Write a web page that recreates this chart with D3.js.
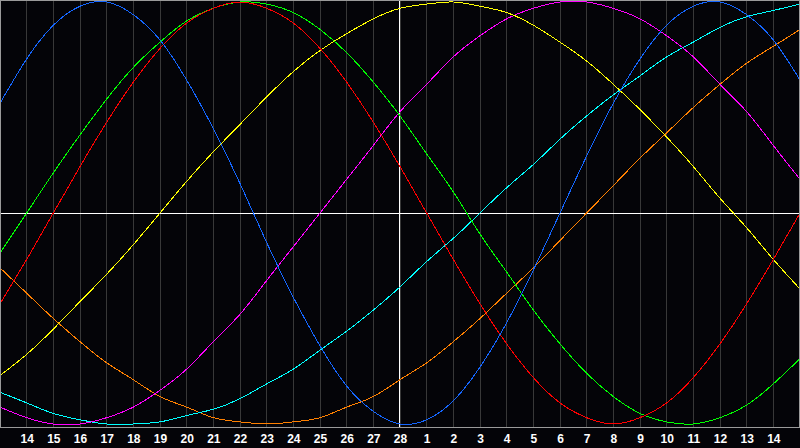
<!DOCTYPE html>
<html>
<head>
<meta charset="utf-8">
<script src="https://cdn.jsdelivr.net/npm/d3@7"></script>
<style>
  html, body { margin: 0; padding: 0; background: #040408; }
  svg { display: block; }
</style>
</head>
<body>
<svg id="chart" width="800" height="448"></svg>
<script>
// Day labels for each sampled day position (index 0 .. 30)
const days = [13, 14, 15, 16, 17, 18, 19, 20, 21, 22, 23, 24, 25, 26, 27, 28,
              1, 2, 3, 4, 5, 6, 7, 8, 9, 10, 11, 12, 13, 14, 15];
// index of the day marked with the white vertical line ("today")
const todayIndex = 15;

// Cycle values (percent, -100..100), one per day position
const physical     = [52, 73, 89, 98, 100, 94, 82, 63, 40, 14, -14, -40, -63, -82, -94, -100, -98, -89, -73, -52, -27, 0, 27, 52, 73, 89, 98, 100, 94, 82, 63];
const emotional    = [-43, -22, 0, 22, 43, 62, 78, 90, 97, 100, 97, 90, 78, 62, 43, 22, 0, -22, -43, -62, -78, -90, -97, -100, -97, -90, -78, -62, -43, -22, 0];
const intellectual = [-19, 0, 19, 37, 54, 69, 81, 91, 97, 100, 99, 95, 87, 76, 62, 46, 28, 10, -10, -28, -46, -62, -76, -87, -95, -99, -100, -97, -91, -81, -69];
const aesthetic    = [-77, -67, -55, -42, -29, -15, 0, 15, 29, 42, 55, 67, 77, 85, 92, 97, 99, 100, 98, 95, 89, 81, 72, 61, 49, 36, 22, 7, -7, -22, -36];
const intuition    = [-92, -97, -100, -100, -97, -92, -84, -74, -61, -48, -32, -16, 0, 16, 32, 48, 61, 74, 84, 92, 97, 100, 100, 97, 92, 84, 74, 61, 48, 32, 16];
const spiritual    = [-85, -90, -95, -98, -100, -100, -99, -96, -93, -88, -81, -74, -65, -56, -46, -35, -23, -12, 0, 12, 23, 35, 46, 56, 65, 74, 81, 88, 93, 96, 99];
const awareness    = [-26, -38, -50, -61, -71, -79, -87, -92, -97, -99, -100, -99, -97, -92, -87, -79, -71, -61, -50, -38, -26, -13, 0, 13, 26, 38, 50, 61, 71, 79, 87];

const seriesNames  = ["awareness", "spiritual", "intuition", "aesthetic", "intellectual", "emotional", "physical"];
const seriesValues = [awareness, spiritual, intuition, aesthetic, intellectual, emotional, physical];
const seriesColors = ["#ff8000", "#00ffff", "#ff00ff", "#ffff00", "#00ff00", "#ff0000", "#1466ff"];

const W = 800, H = 448;
const svg = d3.select("#chart");

const x = d3.scaleLinear().domain([0, days.length - 1]).range([0, 800]);
const y = d3.scaleLinear().domain([-100, 100]).range([424, 2]);

// background
svg.append("rect").attr("x", 0).attr("y", 0).attr("width", W).attr("height", H).attr("fill", "#040408");

// vertical grid lines
const gridIdx = d3.range(1, days.length - 1);
svg.append("g").selectAll("line").data(gridIdx).join("line")
  .attr("x1", d => Math.floor(x(d)) + 0.5)
  .attr("x2", d => Math.floor(x(d)) + 0.5)
  .attr("y1", 1).attr("y2", 427)
  .attr("stroke", "#383838").attr("stroke-width", 1)
  .attr("shape-rendering", "crispEdges");

// zero line and today line
svg.append("line")
  .attr("x1", 1).attr("x2", 799).attr("y1", 213.5).attr("y2", 213.5)
  .attr("stroke", "#ffffff").attr("stroke-width", 1).attr("shape-rendering", "crispEdges");
svg.append("line")
  .attr("x1", Math.floor(x(todayIndex)) - 0.5).attr("x2", Math.floor(x(todayIndex)) - 0.5)
  .attr("y1", 1).attr("y2", 427)
  .attr("stroke", "#ffffff").attr("stroke-width", 1).attr("shape-rendering", "crispEdges");

// curves
const line = d3.line()
  .x((d, i) => x(i))
  .y(d => y(d))
  .curve(d3.curveNatural);

const clip = svg.append("clipPath").attr("id", "plotclip")
  .append("rect").attr("x", 1).attr("y", 1).attr("width", 798).attr("height", 426);

svg.append("g").attr("clip-path", "url(#plotclip)")
  .selectAll("path").data(seriesValues).join("path")
  .attr("d", d => line(d))
  .attr("fill", "none")
  .attr("stroke", (d, i) => seriesColors[i])
  .attr("stroke-width", 1)
  .attr("shape-rendering", "crispEdges");

// plot border
svg.append("rect")
  .attr("x", 0.5).attr("y", 0.5).attr("width", 799).attr("height", 427)
  .attr("fill", "none").attr("stroke", "#9a9a9a").attr("stroke-width", 1)
  .attr("shape-rendering", "crispEdges");

// day labels via axis
const axis = d3.axisBottom(x)
  .tickValues(gridIdx)
  .tickFormat(i => String(days[i]))
  .tickSize(0)
  .tickPadding(0);

const ax = svg.append("g").attr("transform", "translate(0,434)").call(axis);
ax.select(".domain").remove();
ax.selectAll("text")
  .attr("fill", "#ffffff")
  .attr("font-family", "'Liberation Sans', Arial, sans-serif")
  .attr("font-weight", "bold")
  .attr("font-size", 12)
  .attr("dy", "0.71em");
</script>
</body>
</html>
